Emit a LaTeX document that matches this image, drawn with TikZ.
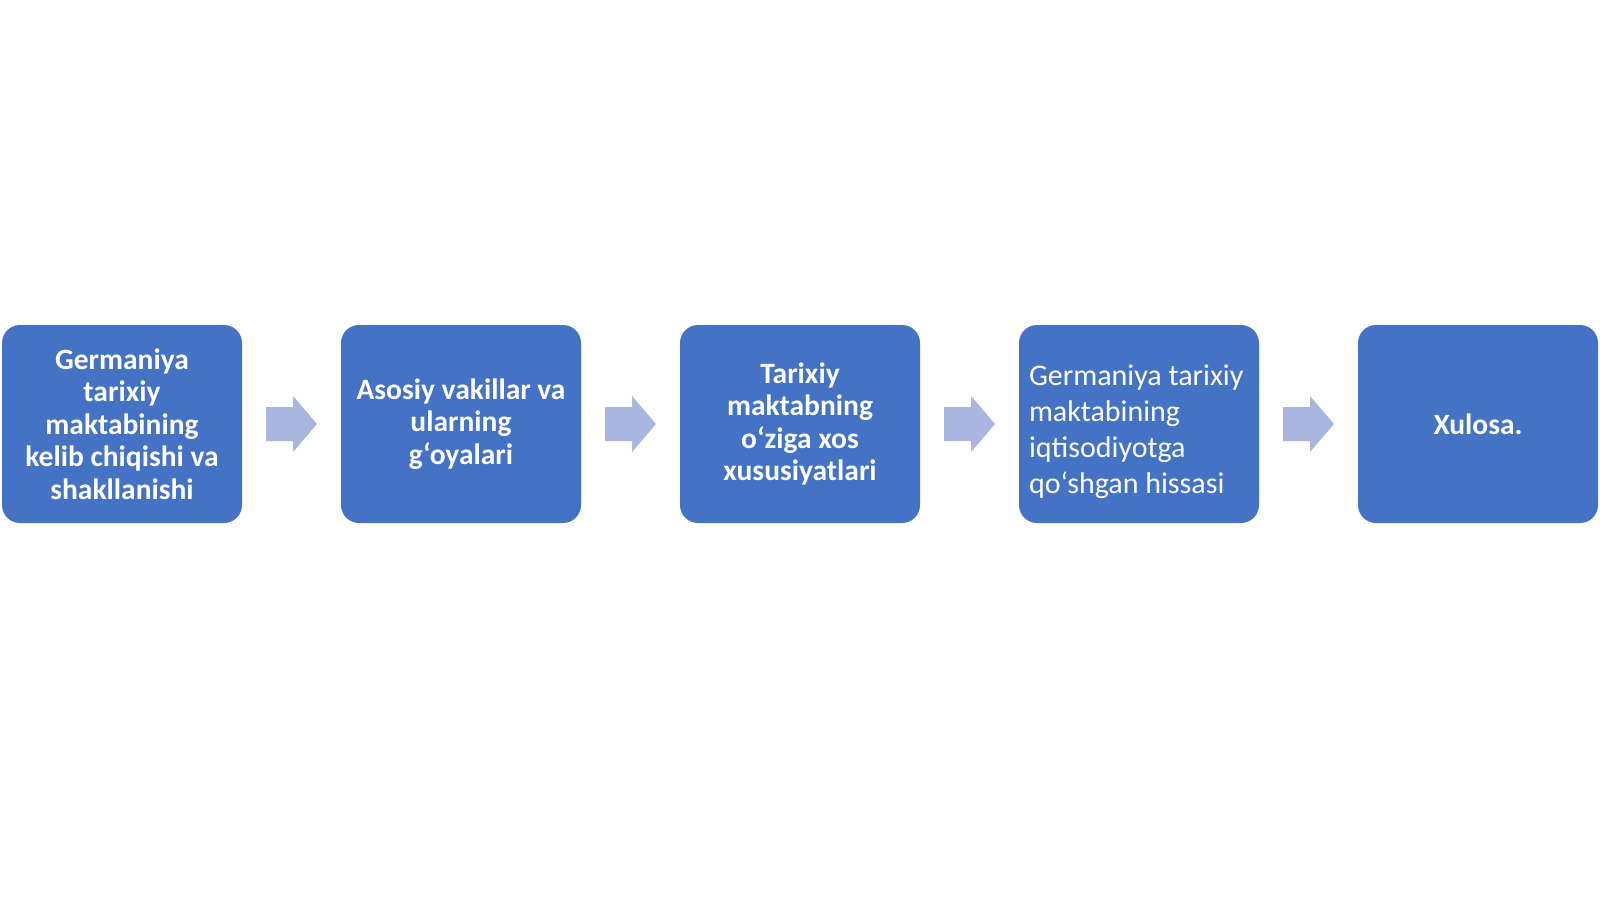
\documentclass[tikz,border=0pt]{standalone}
\usepackage{fontspec}
\setmainfont{Carlito}
\usetikzlibrary{calc}
\definecolor{boxblue}{HTML}{4472C4}
\definecolor{arrowblue}{HTML}{A9B6DF}
\tikzset{
  stepbox/.style={fill=boxblue, draw=none, rounded corners=18pt, minimum width=240pt, minimum height=198pt, inner sep=0pt, text=white, align=center, font=\fontsize{29.5}{32.5}\selectfont\bfseries},
  flowarrow/.style={fill=arrowblue, draw=none}
}
\begin{document}
\begin{tikzpicture}[x=1pt,y=-1pt]
\useasboundingbox (0,0) rectangle (1600,899);
\fill[white] (0,0) rectangle (1600,899);
\node[stepbox] (b1) at (122,424) {Germaniya\\tarixiy\\maktabining\\kelib chiqishi va\\shakllanishi};
\node[stepbox] (b2) at (461,424) {Asosiy vakillar va\\ularning\\g‘oyalari};
\node[stepbox] (b3) at (800,424) {Tarixiy\\maktabning\\o‘ziga xos\\xususiyatlari};
\node[stepbox] (b4) at (1139,424) {};
\node[anchor=west, text=white, align=left, font=\fontsize{30}{36}\selectfont, inner sep=0pt] (t4) at ($(b4.west)+(10,8)$) {Germaniya tarixiy\\maktabining\\iqtisodiyotga\\qo‘shgan hissasi};
\node[stepbox] (b5) at (1478,424) {Xulosa.};
\foreach \i/\j in {1/2,2/3,3/4,4/5}{
  \coordinate (a\i) at ($(b\i.east)!0.5!(b\j.west)$);
  \fill[flowarrow] ($(a\i)+(-25.5,-17)$) -- ($(a\i)+(1.5,-17)$) -- ($(a\i)+(1.5,-28)$) -- ($(a\i)+(25.5,0)$) -- ($(a\i)+(1.5,28)$) -- ($(a\i)+(1.5,17)$) -- ($(a\i)+(-25.5,17)$) -- cycle;
}
\end{tikzpicture}
\end{document}
